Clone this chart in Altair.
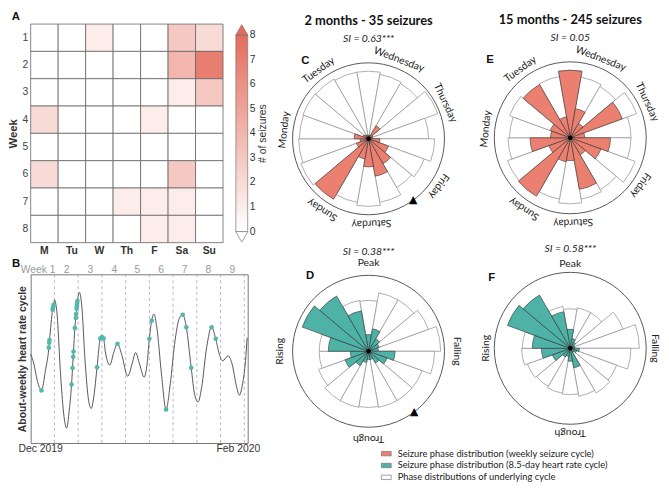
import altair as alt
import pandas as pd

# ---------------- Panel A: seizures per weekday ----------------
DAYS = ["M", "Tu", "W", "Th", "F", "Sa", "Su"]
WEEKS = [1, 2, 3, 4, 5, 6, 7, 8]
SEIZURES_PER_DAY = [
    [0, 0, 1, 0, 0, 3, 2],
    [0, 0, 0, 0, 0, 4, 7],
    [0, 0, 0, 0, 0, 1, 3],
    [2, 0, 0, 0, 1, 0, 0],
    [0, 0, 0, 0, 0, 0, 0],
    [2, 0, 0, 0, 0, 3, 0],
    [0, 0, 0, 1, 1, 1, 0],
    [0, 0, 0, 0, 1, 1, 0],
]
CBAR_TICKS = [0, 1, 2, 3, 4, 5, 6, 7, 8]

# ---------------- Panel B: about-weekly heart rate cycle ----------------
HR_CURVE = [
    (0.00, 2.70), (0.96, 2.40), (1.93, 1.90), (4.34, 2.20), (7.04, 4.35),
    (7.71, 4.00), (8.87, 2.00), (9.83, 0.80), (10.61, 0.45), (11.38, 1.00),
    (14.37, 4.58), (15.04, 4.20), (16.10, 2.40), (17.07, 1.30), (17.84, 1.05),
    (18.61, 1.40), (21.98, 2.80), (23.33, 2.37), (24.49, 2.75), (26.81, 2.70),
    (28.64, 2.03), (29.89, 2.40), (30.95, 2.75), (32.11, 2.40), (33.46, 2.00),
    (34.32, 2.40), (36.35, 3.92), (37.22, 3.50), (38.57, 2.10), (41.17, 1.80),
    (42.43, 3.00), (43.87, 3.80), (48.40, 1.45), (49.37, 1.25), (50.43, 1.70),
    (51.88, 2.90), (55.63, 2.70), (56.60, 2.50), (58.24, 2.65), (59.40, 2.40),
    (60.74, 1.70), (61.52, 1.45), (62.48, 1.80), (63.35, 2.50), (63.83, 3.20),
]
SEIZURE_PHASES = [
    (3.18, 1.60), (5.35, 2.90), (5.47, 3.05), (5.55, 3.13), (6.46, 4.05),
    (6.60, 4.13), (6.75, 4.20), (12.05, 1.78), (12.34, 2.28), (12.53, 2.62),
    (12.63, 2.78), (13.02, 3.50), (13.31, 3.80), (13.40, 3.92), (13.55, 4.08),
    (13.62, 4.16), (13.69, 4.24), (13.79, 4.32), (19.57, 2.30), (20.54, 3.18),
    (21.02, 3.22), (21.50, 3.18), (25.60, 3.02), (35.00, 3.17), (35.68, 3.72),
    (39.92, 1.02), (44.84, 3.90), (45.90, 3.52), (47.34, 2.29), (53.35, 3.52),
    (54.57, 3.17),
]
WEEK_LINES = [7, 14, 21, 28, 35, 42, 49, 56, 63]
WEEK_LABEL_POS = [2.2, 10.6, 17.6, 24.7, 31.5, 38.5, 45.4, 52.4, 59.5]
WEEK_LABELS = ["Week 1", "2", "3", "4", "5", "6", "7", "8", "9"]
DATE_TICKS = [2.8, 61.1]

# ---------------- Panels C-F: rose diagrams (18 phase bins) ----------------
PHASE_BINS = [0, 20, 40, 60, 80, 100, 120, 140, 160, 180, 200, 220, 240, 260, 280, 300, 320, 340]
C_UNDER = [0.89, 0.86, 0.84, 0.97, 0.79, 0.87, 0.78, 0.74, 0.85, 0.89, 0.85, 0.80, 0.95, 0.92, 0.91, 0.92, 0.91, 0.89]
C_SEIZ = [0.04, 0.05, 0.20, 0.06, 0.05, 0.15, 0.28, 0.38, 0.50, 0.37, 0.27, 0.92, 0.17, 0.11, 0.19, 0.08, 0.06, 0.05]
E_UNDER = [0.89, 0.81, 0.78, 0.93, 0.80, 0.80, 0.91, 0.79, 0.82, 0.87, 0.82, 0.84, 0.88, 0.82, 0.80, 0.85, 0.80, 0.82]
E_SEIZ = [0.89, 0.39, 0.22, 0.73, 0.19, 0.53, 0.43, 0.26, 0.69, 0.30, 0.32, 0.89, 0.30, 0.53, 0.26, 0.28, 0.81, 0.28]
D_UNDER = [0.67, 0.78, 0.78, 0.84, 0.95, 0.87, 0.75, 0.75, 0.75, 0.74, 0.75, 0.75, 0.70, 0.65, 0.65, 0.67, 0.70, 0.68]
D_SEIZ = [0.22, 0.30, 0.19, 0.15, 0.13, 0.35, 0.26, 0.18, 0.11, 0.11, 0.15, 0.22, 0.33, 0.24, 0.53, 0.93, 0.84, 0.54]
F_UNDER = [0.52, 0.54, 0.54, 0.74, 0.91, 0.80, 0.65, 0.68, 0.64, 0.61, 0.60, 0.58, 0.60, 0.64, 0.63, 0.63, 0.61, 0.56]
F_SEIZ = [0.25, 0.13, 0.09, 0.06, 0.06, 0.12, 0.09, 0.06, 0.26, 0.17, 0.11, 0.13, 0.25, 0.38, 0.50, 0.88, 0.81, 0.49]

WEEKDAY_NAMES = ["Monday", "Tuesday", "Wednesday", "Thursday", "Friday", "Saturday", "Sunday"]
WEEKDAY_ANGLES = [276, 324, 21, 65, 124, 178, 213]
PHASE_NAMES = ["Peak", "Falling", "Trough", "Rising"]
PHASE_ANGLES = [0, 90, 180, 270]

KIND_W = "Seizure phase distribution (weekly seizure cycle)"
KIND_H = "Seizure phase distribution (8.5-day heart rate cycle)"
KIND_U = "Phase distributions of underlying cycle"

SALMON = "#ec8070"
TEAL = "#4fb2a7"
HEAT_MAX = "#e46c5c"
PF = "Lato"

# ---------------- shared scales ----------------
TH = alt.Scale(type="linear", domain=[0, 360], range=[0, 6.283185307179586])
RA = alt.Scale(type="linear", domain=[0, 1], range=[0, 77])
HEAT_SCALE = alt.Scale(domain=[0, 8], range=["#ffffff", HEAT_MAX], interpolate="rgb")
FILL = alt.Fill(
    "kind:N",
    scale=alt.Scale(domain=[KIND_W, KIND_H, KIND_U], range=[SALMON, TEAL, "#ffffff"]),
    legend=alt.Legend(
        orient="none", legendX=355, legendY=430, title=None, padding=0,
        symbolType="M-1,-0.45L1,-0.45L1,0.45L-1,0.45Z", symbolSize=100,
        symbolStrokeColor="#777777", symbolStrokeWidth=0.7,
        labelFont=PF, labelFontSize=9.5, labelColor="#222222", labelLimit=400,
        labelOffset=6, rowPadding=2,
    ),
)
ONE = pd.DataFrame({"k": [0]})

# ---------------- Panel A ----------------
heat_rows = []
for wi, wk in enumerate(WEEKS):
    for di, d in enumerate(DAYS):
        heat_rows.append({"day": d, "week": wk, "n": SEIZURES_PER_DAY[wi][di]})
heat_df = pd.DataFrame(heat_rows)

heat = alt.Chart(heat_df).mark_rect(stroke="#666666", strokeWidth=0.8).encode(
    x=alt.X("day:N", sort=DAYS,
            scale=alt.Scale(domain=DAYS, range=[0, 195], paddingInner=0, paddingOuter=0),
            axis=alt.Axis(title=None, labelAngle=0, labelFontWeight="bold", labelFontSize=10.5,
                          labelColor="#333333", ticks=False, domain=False, labelPadding=3)),
    y=alt.Y("week:O", scale=alt.Scale(domain=WEEKS, paddingInner=0, paddingOuter=0),
            axis=alt.Axis(title="Week", titleFontWeight="bold", titleFontSize=11.5, titleColor="#333333",
                          titleX=-12, titleY=110.8,
                          labelFontSize=10.5, labelColor="#444444", ticks=False, domain=False,
                          labelPadding=3)),
    color=alt.Color("n:Q", scale=HEAT_SCALE, legend=None),
)
letter_a = alt.Chart(ONE).mark_text(text="A", fontWeight="bold", fontSize=11.5, color="#111111").encode(
    x=alt.value(-15), y=alt.value(-7))

CB_Y = alt.Scale(domain=[-0.45, 8.45], nice=False, zero=False)
cb_body = alt.Chart(pd.DataFrame({"a": [0], "b": [8]})).mark_rect(
    fill=alt.LinearGradient(gradient="linear", x1=0, y1=1, x2=0, y2=0,
                            stops=[alt.GradientStop(color="#ffffff", offset=0),
                                   alt.GradientStop(color=HEAT_MAX, offset=1)]),
    stroke="#777777", strokeWidth=0.7).encode(
    x=alt.value(208), x2=alt.value(220), y=alt.Y("a:Q", scale=CB_Y, axis=None), y2="b:Q")
cb_labels = alt.Chart(pd.DataFrame({"v": CBAR_TICKS})).mark_text(
    align="left", baseline="middle", fontSize=10.5, color="#333333").encode(
    x=alt.value(222), y=alt.Y("v:Q", scale=CB_Y, axis=None), text="v:Q")
cb_title = alt.Chart(ONE).mark_text(text="# of seizures", angle=270, fontSize=10.5, color="#333333",
                                    baseline="middle").encode(x=alt.value(236), y=alt.value(111))
cb_up = alt.Chart(ONE).mark_point(
    shape="triangle-up", filled=True, fill=HEAT_MAX, stroke="#777777", strokeWidth=0.7,
    size=150, opacity=1).encode(x=alt.value(214), y=alt.value(5.9))
cb_dn = alt.Chart(ONE).mark_point(
    shape="triangle-down", filled=True, fill="#ffffff", stroke="#777777", strokeWidth=0.7,
    size=150, opacity=1).encode(x=alt.value(214), y=alt.value(215.7))

panel_a = alt.layer(heat, cb_body, cb_labels, cb_title, cb_up, cb_dn, letter_a).resolve_scale(
    y="independent").properties(width=220, height=221.6)

# ---------------- Panel B ----------------
curve_pts = sorted(HR_CURVE + SEIZURE_PHASES)
hr_df = pd.DataFrame({"day": [p[0] for p in curve_pts], "v": [p[1] for p in curve_pts]})
sz_df = pd.DataFrame({"day": [p[0] for p in SEIZURE_PHASES], "v": [p[1] for p in SEIZURE_PHASES]})
BX = alt.Scale(domain=[0, 64], nice=False, zero=False)
BY = alt.Scale(domain=[0, 5.13], nice=False, zero=False)

b_rules = alt.Chart(pd.DataFrame({"day": WEEK_LINES})).mark_rule(
    color="#a8a8a8", strokeDash=[3, 3], strokeWidth=0.8).encode(x=alt.X("day:Q", scale=BX))
b_line = alt.Chart(hr_df).mark_line(color="#555555", strokeWidth=1, interpolate="monotone").encode(
    x=alt.X("day:Q", scale=BX,
            axis=alt.Axis(values=DATE_TICKS, labelExpr="datum.value < 30 ? 'Dec 2019' : 'Feb 2020'",
                          title=None, ticks=False, domain=False, grid=False, labelFontSize=10.5,
                          labelColor="#333333", labelPadding=1)),
    y=alt.Y("v:Q", scale=BY,
            axis=alt.Axis(title="About-weekly heart rate cycle", labels=False, ticks=False, domain=False,
                          grid=False, titleFontSize=10.5, titleFontWeight="bold", titleColor="#333333",
                          titleX=-3.5, titleY=85.5)),
)
b_dots = alt.Chart(sz_df).mark_circle(color="#52b8ad", size=22, opacity=1).encode(
    x=alt.X("day:Q", scale=BX), y=alt.Y("v:Q", scale=BY))
b_weeks = alt.Chart(pd.DataFrame({"pos": WEEK_LABEL_POS, "lab": WEEK_LABELS})).mark_text(
    color="#9a9a9a", fontSize=10.5, baseline="middle").encode(
    x=alt.X("pos:Q", scale=BX), y=alt.value(-4), text="lab:N")
letter_b = alt.Chart(ONE).mark_text(text="B", fontWeight="bold", fontSize=11.5, align="left",
                                    color="#111111").encode(x=alt.value(-19), y=alt.value(-10))
panel_b = alt.layer(b_rules, b_line, b_dots, b_weeks, letter_b).properties(
    width=220, height=171, view=alt.ViewBackground(stroke="#777777", strokeWidth=1))


# ---------------- rose diagrams ----------------
def arc_frame(vals, kind):
    return pd.DataFrame({"t0": [b - 10 for b in PHASE_BINS], "t1": [b + 10 for b in PHASE_BINS],
                         "r": vals, "kind": kind})


def text_layer(names, angles, r, rotate, **style):
    df = pd.DataFrame({"name": names, "th": angles, "r": [r] * len(names)})
    enc = dict(theta=alt.Theta("th:Q", scale=TH), radius=alt.Radius("r:Q", scale=RA), text="name:N")
    if rotate:
        enc["angle"] = alt.Angle("th:Q", scale=None)
    return alt.Chart(df).mark_text(**style).encode(**enc)


def polar(under, seiz, seiz_kind, names, angles, label_r, si, letter, letter_th, letter_r,
          w, h, header=None, arrow_th=None):
    enc = dict(theta=alt.Theta("t0:Q", scale=TH), theta2="t1:Q",
               radius=alt.Radius("r:Q", scale=RA), fill=FILL)
    layers = [
        alt.Chart(arc_frame(under, KIND_U)).mark_arc(stroke="#9a9a9a", strokeWidth=0.8).encode(**enc),
        alt.Chart(arc_frame(seiz, seiz_kind)).mark_arc(stroke="#333333", strokeWidth=0.6).encode(**enc),
        alt.Chart(ONE).mark_arc(fillOpacity=0, stroke="#444444", strokeWidth=0.9).encode(
            theta=alt.datum(0), theta2=alt.datum(360), radius=alt.datum(1)),
        alt.Chart(ONE).mark_arc(color="#000000").encode(
            theta=alt.datum(0), theta2=alt.datum(360), radius=alt.datum(0.03)),
        text_layer(names, angles, label_r, True, font=PF, fontSize=10.5, color="#222222"),
        text_layer([si], [0], 1.31, False, font=PF, fontSize=10.5, fontStyle="italic", color="#222222"),
        text_layer([letter], [letter_th], letter_r, False, font="Liberation Sans", fontSize=11.5,
                   fontWeight="bold", color="#111111"),
    ]
    if header:
        layers.append(text_layer([header], [0], 1.555, False, font=PF, fontSize=13,
                                 fontWeight="bold", color="#111111"))
    if arrow_th is not None:
        layers.append(text_layer(["\u25b2"], [arrow_th], 1.0, False, font="DejaVu Sans",
                                 fontSize=11, color="#000000"))
    return alt.layer(*layers).properties(width=w, height=h)


panel_c = polar(C_UNDER, C_SEIZ, KIND_W, WEEKDAY_NAMES, WEEKDAY_ANGLES, 1.115, "SI = 0.63***",
                "C", 321, 1.32, 205, 232.6, header="2 months - 35 seizures", arrow_th=144)
panel_e = polar(E_UNDER, E_SEIZ, KIND_W, WEEKDAY_NAMES, WEEKDAY_ANGLES, 1.115, "SI = 0.05",
                "E", 314, 1.47, 164, 230.6, header="15 months - 245 seizures")
panel_d = polar(D_UNDER, D_SEIZ, KIND_H, PHASE_NAMES, PHASE_ANGLES, 1.16, "SI = 0.38***",
                "D", 322, 1.25, 205, 156, arrow_th=143)
panel_f = polar(F_UNDER, F_SEIZ, KIND_H, PHASE_NAMES, PHASE_ANGLES, 1.11, "SI = 0.58***",
                "F", 312, 1.39, 164, 150)

chart = alt.concat(
    panel_a, panel_c, panel_e, panel_b, panel_d, panel_f,
    columns=3, spacing={"row": 20.7, "column": 20}, bounds="flush", align="each", padding=0,
).configure(font="Liberation Sans").configure_view(strokeWidth=0)

chart.save("out.html", embed_options={"renderer": "svg", "actions": False})
